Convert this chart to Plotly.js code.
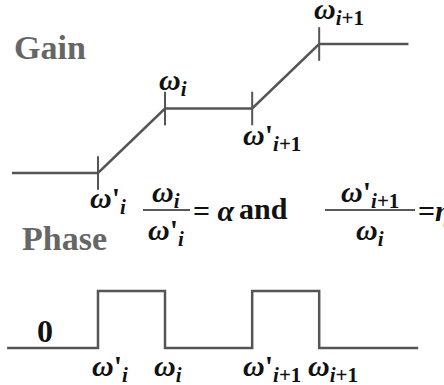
<!DOCTYPE html>
<html>
<head>
<meta charset="utf-8">
<script src="https://cdn.plot.ly/plotly-3.0.1.min.js"></script>
</head>
<body style="margin:0">
<div id="chart"></div>
<script>
// Corner frequencies of the two cascaded lead sections (rad/s, log scale):
// w'_i -> w_i spans alpha, w_i -> w'_{i+1} spans eta, w'_{i+1} -> w_{i+1} spans alpha.
const alpha = 10;
const eta = 20;
const breakFreqs = [1, alpha, alpha * eta, alpha * alpha * eta];
const breakLabels = ["ω'_i", "ω_i", "ω'_{i+1}", "ω_{i+1}"];

// Asymptotic gain (dB), from low to high frequency
const gainFreqs = [0.052, 1, 10, 200, 2000, 43000];
const gainValues = [0, 0, 20, 20, 40, 40];
const gainTickValues = [0, 20, 20, 40];

// Idealised phase (deg): one lead bump over each lead section
const phaseFreqs = [0.044, 1, 1, 10, 10, 200, 200, 2000, 2000, 60000];
const phaseValues = [0, 0, 45, 45, 0, 0, 45, 45, 0, 0];

const lineColor = '#555555';
const FAMILY = 'Liberation Serif';

function omegaHtml(label) {
  // "ω'_{i+1}" -> italic omega, optional prime, subscript
  const m = label.match(/^ω('?)_\{?([^}]*)\}?$/);
  const prime = m[1] ? "'" : '';
  const sub = m[2].replace('i', '<i>i</i>');
  return '<b><i>ω</i>' + prime + '<sub>' + sub + '</sub></b>';
}

function serifFont(size, color) {
  return { family: FAMILY, size: size, color: color };
}

const traces = [
  {
    x: gainFreqs, y: gainValues, xaxis: 'x', yaxis: 'y', type: 'scatter',
    mode: 'lines', line: { color: lineColor, width: 2.5 }, hoverinfo: 'skip'
  },
  {
    x: breakFreqs, y: gainTickValues, xaxis: 'x', yaxis: 'y', type: 'scatter',
    mode: 'markers',
    marker: { symbol: 'line-ns', size: 24, color: lineColor,
              line: { color: lineColor, width: 2 } },
    hoverinfo: 'skip'
  },
  {
    x: phaseFreqs, y: phaseValues, xaxis: 'x', yaxis: 'y2', type: 'scatter',
    mode: 'lines', line: { color: lineColor, width: 2.5 }, hoverinfo: 'skip'
  }
];

const W = 444, H = 385;
const px = (x) => x / W;
const py = (y) => 1 - y / H;

const annotations = [];

// Gain-plot corner labels: [index, yshift, xshift]
const gainLabelPlacement = [
  [0, -27, -10],
  [1, 26, -8],
  [2, -29, -11],
  [3, 33, -7]
];
gainLabelPlacement.forEach(([k, ys, xs]) => {
  annotations.push({
    x: Math.log10(breakFreqs[k]), y: gainTickValues[k], xref: 'x', yref: 'y',
    text: omegaHtml(breakLabels[k]), showarrow: false,
    xanchor: 'left', yanchor: 'middle', xshift: xs, yshift: ys,
    font: serifFont(30, '#111111')
  });
});

// Phase-plot corner labels under the baseline
const phaseLabelShift = [-8, -13, -11, -13];
breakFreqs.forEach((f, k) => {
  annotations.push({
    x: Math.log10(f), y: py(368), xref: 'x', yref: 'paper',
    text: omegaHtml(breakLabels[k]), showarrow: false,
    xanchor: 'left', yanchor: 'middle', xshift: phaseLabelShift[k],
    font: serifFont(30, '#111111')
  });
});

// Panel headings and the phase zero level
annotations.push({
  x: px(12), y: py(47), xref: 'paper', yref: 'paper', text: '<b>Gain</b>',
  showarrow: false, xanchor: 'left', yanchor: 'middle', font: serifFont(34, '#666666')
});
annotations.push({
  x: px(20), y: py(238), xref: 'paper', yref: 'paper', text: '<b>Phase</b>',
  showarrow: false, xanchor: 'left', yanchor: 'middle', font: serifFont(34, '#666666')
});
annotations.push({
  x: px(45), y: py(331), xref: 'paper', yref: 'paper', text: '<b>0</b>',
  showarrow: false, xanchor: 'center', yanchor: 'middle', font: serifFont(32, '#111111')
});

// Ratio definitions: w_i / w'_i = alpha and w'_{i+1} / w_i = eta
const fracs = [
  { num: breakLabels[1], den: breakLabels[0], cx: 166, x0: 143, x1: 190 },
  { num: breakLabels[2], den: breakLabels[1], cx: 370, x0: 325, x1: 415 }
];
const shapes = [];
fracs.forEach((f) => {
  annotations.push({
    x: px(f.cx), y: py(194), xref: 'paper', yref: 'paper', text: omegaHtml(f.num),
    showarrow: false, xanchor: 'center', yanchor: 'middle', font: serifFont(30, '#111111')
  });
  annotations.push({
    x: px(f.cx), y: py(232), xref: 'paper', yref: 'paper', text: omegaHtml(f.den),
    showarrow: false, xanchor: 'center', yanchor: 'middle', font: serifFont(30, '#111111')
  });
  shapes.push({
    type: 'line', xref: 'paper', yref: 'paper',
    x0: px(f.x0), x1: px(f.x1), y0: py(210), y1: py(210),
    line: { color: '#222222', width: 1.5 }
  });
});
annotations.push({
  x: px(191), y: py(211), xref: 'paper', yref: 'paper', text: '<b>= <i>α</i></b>',
  showarrow: false, xanchor: 'left', yanchor: 'middle', font: serifFont(30, '#111111')
});
annotations.push({
  x: px(263), y: py(209), xref: 'paper', yref: 'paper', text: '<b>and</b>',
  showarrow: false, xanchor: 'center', yanchor: 'middle', font: serifFont(30, '#111111')
});
annotations.push({
  x: px(416), y: py(211), xref: 'paper', yref: 'paper', text: '<b>=<i>η</i></b>',
  showarrow: false, xanchor: 'left', yanchor: 'middle', font: serifFont(30, '#111111')
});

// Gain panel on top, phase panel below, sharing one log-frequency axis
const layout = {
  width: W, height: H,
  margin: { l: 0, r: 0, t: 0, b: 0, pad: 0 },
  showlegend: false,
  font: { family: FAMILY },
  xaxis: { type: 'log', range: [-1.4627, 5.164], visible: false },
  yaxis: { domain: [py(280), 1], range: [-33.18, 53.64], visible: false },
  yaxis2: { domain: [0, py(280)], anchor: 'x', range: [-29.21, 53.68], visible: false },
  annotations: annotations,
  shapes: shapes
};

const config = { staticPlot: true };

// Draw at once, then redraw when the serif faces are ready so text is measured and set in them
Plotly.newPlot('chart', traces, layout, config).then(() => {
  const faces = ['bold 34px', 'bold 30px', 'bold italic 30px', 'italic 30px', '30px']
    .map((f) => document.fonts.load(f + ' "' + FAMILY + '"', 'Gain Phase and ωαη0'));
  return Promise.all(faces).then(() => document.fonts.ready);
}).then(() => {
  return Plotly.newPlot('chart', traces, layout, config);
}).catch(() => {});
</script>
</body>
</html>
